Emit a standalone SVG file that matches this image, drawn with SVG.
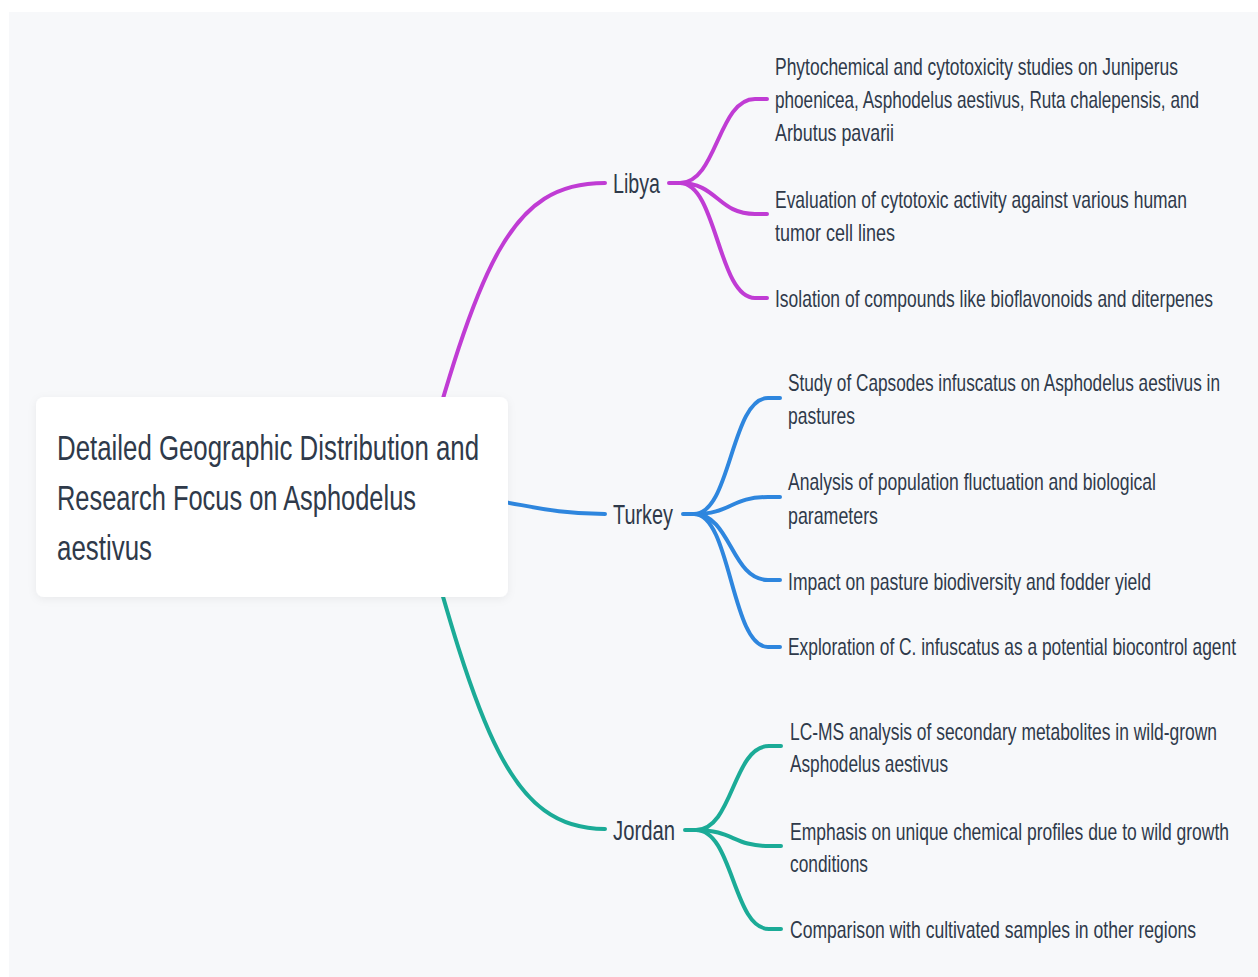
<svg xmlns="http://www.w3.org/2000/svg" width="1258" height="977" viewBox="0 0 1258 977">
<defs>
<style>
.bg{fill:#f7f8fa}
.conn{fill:none;stroke-width:4;stroke-linecap:round;stroke-linejoin:round}
.lib{stroke:#c03cd4}
.tur{stroke:#2e86de}
.jor{stroke:#1bab97}
text{font-family:"Liberation Sans",Arial,sans-serif;fill:#2f3a4a}
.root{font-size:35px}
.lbl{font-size:28px}
.leaf{font-size:23px}
</style>
<filter id="sh" x="-10%" y="-10%" width="120%" height="130%">
<feDropShadow dx="0" dy="2" stdDeviation="4" flood-color="#000" flood-opacity="0.06"/>
</filter>
</defs>
<rect x="0" y="0" width="1258" height="977" fill="#ffffff"/>
<rect class="bg" x="9" y="12" width="1249" height="965"/>
<g id="connectors">
<path class="conn lib" d="M 415 497 C 480 260, 510 183, 605 183"/>
<path class="conn tur" d="M 420 495 C 510 495, 530 514, 605 514"/>
<path class="conn jor" d="M 415 497 C 480 734, 510 829, 605 829"/>
<path class="conn lib" d="M 669 183 H 680 C 717 183, 718 99, 755 99 H 767"/>
<path class="conn lib" d="M 680 183 C 717 183, 718 214, 755 214 H 767"/>
<path class="conn lib" d="M 680 183 C 717 183, 718 298, 755 298 H 767"/>
<path class="conn tur" d="M 683 514 H 694 C 731 514, 731 398, 768 398 H 780"/>
<path class="conn tur" d="M 694 514 C 731 514, 731 497, 768 497 H 780"/>
<path class="conn tur" d="M 694 514 C 731 514, 731 580, 768 580 H 780"/>
<path class="conn tur" d="M 694 514 C 731 514, 731 647, 768 647 H 780"/>
<path class="conn jor" d="M 685 830 H 696 C 733 830, 733 746, 769 746 H 781"/>
<path class="conn jor" d="M 696 830 C 733 830, 733 846, 769 846 H 781"/>
<path class="conn jor" d="M 696 830 C 733 830, 733 929, 769 929 H 781"/>
</g>
<g id="root">
<rect x="36" y="397" width="472" height="200" rx="8" fill="#ffffff" filter="url(#sh)"/>
<text class="root" x="0" y="0" transform="translate(57 460) scale(0.7 1)" textLength="602.9" lengthAdjust="spacingAndGlyphs">Detailed Geographic Distribution and</text>
<text class="root" x="0" y="0" transform="translate(57 510) scale(0.7 1)" textLength="512.9" lengthAdjust="spacingAndGlyphs">Research Focus on Asphodelus</text>
<text class="root" x="0" y="0" transform="translate(57 560) scale(0.7 1)" textLength="135.7" lengthAdjust="spacingAndGlyphs">aestivus</text>
</g>
<g id="libya">
<text class="lbl" x="0" y="0" transform="translate(613 193) scale(0.7 1)" textLength="67.1" lengthAdjust="spacingAndGlyphs">Libya</text>
</g>
<g id="turkey">
<text class="lbl" x="0" y="0" transform="translate(613 524) scale(0.7 1)" textLength="85.7" lengthAdjust="spacingAndGlyphs">Turkey</text>
</g>
<g id="jordan">
<text class="lbl" x="0" y="0" transform="translate(613 840) scale(0.7 1)" textLength="88.6" lengthAdjust="spacingAndGlyphs">Jordan</text>
</g>
<g id="libya-1">
<text class="leaf" x="0" y="0" transform="translate(775 75) scale(0.7 1)" textLength="575.7" lengthAdjust="spacingAndGlyphs">Phytochemical and cytotoxicity studies on Juniperus</text>
<text class="leaf" x="0" y="0" transform="translate(775 108) scale(0.7 1)" textLength="605.7" lengthAdjust="spacingAndGlyphs">phoenicea, Asphodelus aestivus, Ruta chalepensis, and</text>
<text class="leaf" x="0" y="0" transform="translate(775 141) scale(0.7 1)" textLength="170" lengthAdjust="spacingAndGlyphs">Arbutus pavarii</text>
</g>
<g id="libya-2">
<text class="leaf" x="0" y="0" transform="translate(775 208) scale(0.7 1)" textLength="588.6" lengthAdjust="spacingAndGlyphs">Evaluation of cytotoxic activity against various human</text>
<text class="leaf" x="0" y="0" transform="translate(775 241) scale(0.7 1)" textLength="171.4" lengthAdjust="spacingAndGlyphs">tumor cell lines</text>
</g>
<g id="libya-3">
<text class="leaf" x="0" y="0" transform="translate(775 307) scale(0.7 1)" textLength="625.7" lengthAdjust="spacingAndGlyphs">Isolation of compounds like bioflavonoids and diterpenes</text>
</g>
<g id="turkey-1">
<text class="leaf" x="0" y="0" transform="translate(788 391) scale(0.7 1)" textLength="617.1" lengthAdjust="spacingAndGlyphs">Study of Capsodes infuscatus on Asphodelus aestivus in</text>
<text class="leaf" x="0" y="0" transform="translate(788 424) scale(0.7 1)" textLength="95.7" lengthAdjust="spacingAndGlyphs">pastures</text>
</g>
<g id="turkey-2">
<text class="leaf" x="0" y="0" transform="translate(788 490) scale(0.7 1)" textLength="525.7" lengthAdjust="spacingAndGlyphs">Analysis of population fluctuation and biological</text>
<text class="leaf" x="0" y="0" transform="translate(788 524) scale(0.7 1)" textLength="128.6" lengthAdjust="spacingAndGlyphs">parameters</text>
</g>
<g id="turkey-3">
<text class="leaf" x="0" y="0" transform="translate(788 590) scale(0.7 1)" textLength="518.6" lengthAdjust="spacingAndGlyphs">Impact on pasture biodiversity and fodder yield</text>
</g>
<g id="turkey-4">
<text class="leaf" x="0" y="0" transform="translate(788 655) scale(0.7 1)" textLength="640" lengthAdjust="spacingAndGlyphs">Exploration of C. infuscatus as a potential biocontrol agent</text>
</g>
<g id="jordan-1">
<text class="leaf" x="0" y="0" transform="translate(790 740) scale(0.7 1)" textLength="610" lengthAdjust="spacingAndGlyphs">LC-MS analysis of secondary metabolites in wild-grown</text>
<text class="leaf" x="0" y="0" transform="translate(790 772) scale(0.7 1)" textLength="225.7" lengthAdjust="spacingAndGlyphs">Asphodelus aestivus</text>
</g>
<g id="jordan-2">
<text class="leaf" x="0" y="0" transform="translate(790 840) scale(0.7 1)" textLength="627.1" lengthAdjust="spacingAndGlyphs">Emphasis on unique chemical profiles due to wild growth</text>
<text class="leaf" x="0" y="0" transform="translate(790 872) scale(0.7 1)" textLength="111.4" lengthAdjust="spacingAndGlyphs">conditions</text>
</g>
<g id="jordan-3">
<text class="leaf" x="0" y="0" transform="translate(790 938) scale(0.7 1)" textLength="580" lengthAdjust="spacingAndGlyphs">Comparison with cultivated samples in other regions</text>
</g>
</svg>
